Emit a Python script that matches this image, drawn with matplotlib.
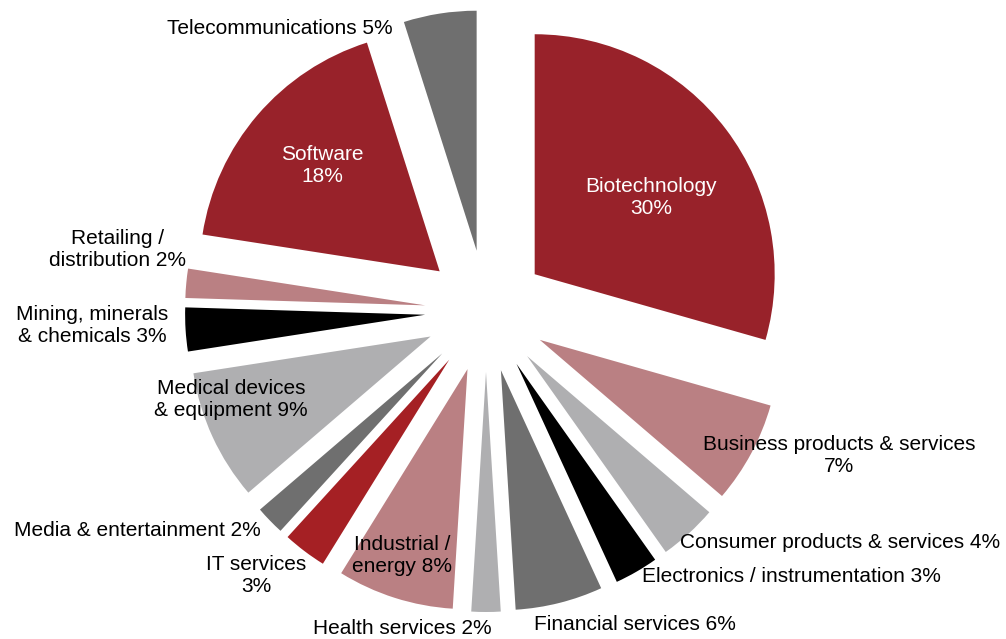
import matplotlib.pyplot as plt

plt.rcParams['font.family'] = ['Liberation Sans', 'DejaVu Sans']

# share of deals by sector, clockwise from 12 o'clock
sectors = ['Biotechnology', 'Business products & services',
           'Consumer products & services', 'Electronics / instrumentation',
           'Financial services', 'Health services', 'Industrial /\nenergy',
           'IT services', 'Media & entertainment',
           'Medical devices\n& equipment', 'Mining, minerals\n& chemicals',
           'Retailing /\ndistribution', 'Software', 'Telecommunications']
shares = [30, 7, 4, 3, 6, 2, 8, 3, 2, 9, 3, 2, 18, 5]
# what goes between the name and the percentage
joins = ['\n', '\n', ' ', ' ', ' ', ' ', ' ', '\n', ' ', ' ', ' ', ' ', '\n', ' ']

DARK_RED = '#98222A'
RED = '#A52024'
ROSE = '#BA8083'
LIGHT = '#AFAFB1'
DARK = '#6F6F6F'
BLACK = '#000000'
colors = [DARK_RED, ROSE, LIGHT, BLACK, DARK, LIGHT, ROSE, RED, DARK,
          LIGHT, BLACK, ROSE, DARK_RED, DARK]

# label centres in pixels (y measured upward) and text colours
label_xy = [(651, 441), (839, 184), (840, 96), (791, 62), (635, 14),
            (402, 11), (402, 84), (256, 64), (137, 109), (231, 239),
            (92, 314), (118, 389), (322, 474), (280, 611)]
label_col = ['white', 'black', 'black', 'black', 'black', 'black', 'black',
             'black', 'black', 'black', 'black', 'black', 'white', 'black']

W, H = 1006, 639
fig = plt.figure(figsize=(W / 100, H / 100), dpi=100)
ax = fig.add_axes([0, 0, 1, 1])

# explode is given in data units here (pixels), since radius != 1
radius = 240
gap = 61
ax.pie(shares, colors=colors, startangle=90, counterclock=False,
       radius=radius, center=(486, 328), explode=[gap] * len(shares),
       wedgeprops=dict(linewidth=0))

for name, val, j, (x, y), c in zip(sectors, shares, joins, label_xy, label_col):
    ax.text(x, y, f'{name}{j}{val}%', ha='center', va='center',
            fontsize=15, color=c, linespacing=1.2)

ax.set_xlim(0, W)
ax.set_ylim(0, H)
ax.set_aspect('equal')
ax.axis('off')

fig.savefig('out.png', dpi=100, facecolor='white')
